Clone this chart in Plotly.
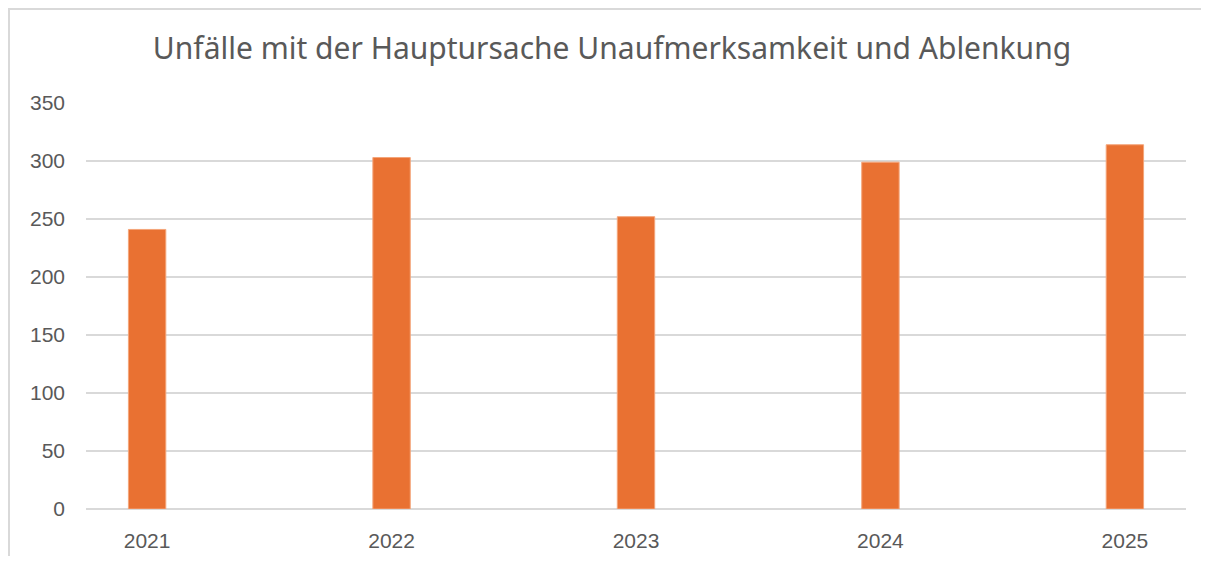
import plotly.graph_objects as go

years = ["2021", "2022", "2023", "2024", "2025"]
accidents = [241, 303, 252, 299, 314]
y_ticks = [0, 50, 100, 150, 200, 250, 300, 350]
title_text = "Unfälle mit der Hauptursache Unaufmerksamkeit und Ablenkung"

OFF = 8  # page body margin
W, H = 1209 - 2 * OFF, 564 - 2 * OFF
L, R, T, B = 86 - OFF, 1186 - OFF, 103 - OFF, 509 - OFF

fig = go.Figure()
fig.add_trace(go.Bar(
    x=years, y=accidents, width=0.153,
    marker=dict(color="#E97132", line=dict(color="#F4A57A", width=1)),
    hoverinfo="x+y",
))

def px_x(p):
    return (p - OFF - L) / (R - L)

def px_y(p):
    return (B - (p - OFF)) / (B - T)

fig.update_layout(
    width=W, height=H,
    margin=dict(l=L, r=W - R, t=T, b=H - B, pad=0, autoexpand=False),
    paper_bgcolor="white", plot_bgcolor="white",
    showlegend=False,
    title=dict(text=title_text, x=(612 - OFF) / W, xanchor="center",
               y=1 - (48 - OFF) / H, yanchor="middle",
               font=dict(family="Noto Sans", size=30, color="#595959")),
    xaxis=dict(type="category", range=[-0.25, 4.25], showgrid=False,
               showline=False, ticks="", ticklabelstandoff=17, automargin=False,
               tickfont=dict(family="Liberation Sans", size=21, color="#595959")),
    yaxis=dict(range=[0, 350], tickvals=y_ticks, showgrid=True,
               gridcolor="#D9D9D9", gridwidth=2, zeroline=True,
               zerolinecolor="#D9D9D9", zerolinewidth=2, showline=False,
               ticks="", ticklabelstandoff=20, automargin=False,
               tickfont=dict(family="Liberation Sans", size=21, color="#595959")),
    shapes=[dict(type="path", xref="paper", yref="paper",
                 path=f"M {px_x(1215)} {px_y(9)} L {px_x(9)} {px_y(9)} L {px_x(9)} {px_y(580)}",
                 line=dict(color="#D9D9D9", width=2))],
)

fig.write_html("out.html")
